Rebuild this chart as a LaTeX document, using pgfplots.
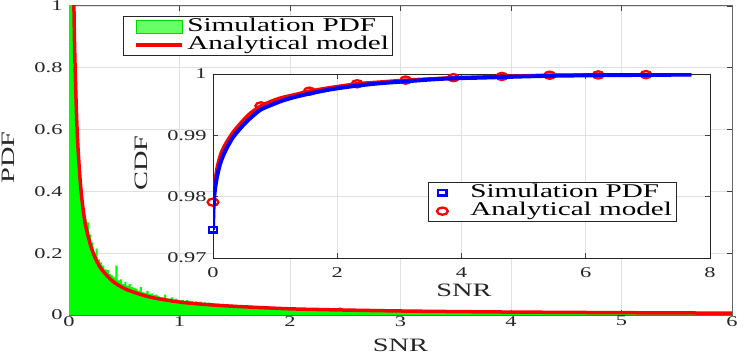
\documentclass[border=0pt]{standalone}
\usepackage{fontspec}
\setmainfont{Liberation Serif}[FakeStretch=1.5]
\usepackage{pgfplots}
\usepackage{pgfplotstable}
\pgfplotsset{compat=1.18}
\definecolor{mgreen}{RGB}{0,255,0}
\definecolor{mred}{RGB}{255,0,0}
\definecolor{mblue}{RGB}{0,0,255}
\definecolor{axgray}{RGB}{64,64,64}

% histogram of simulated SNR, bin width 0.02 starting at 0
\pgfplotstableread{
y
3.0
1.2
0.80
0.60
0.48
0.41
0.35
0.31
0.30
0.26
0.235
0.20
0.215
0.18
0.17
0.16
0.148
0.145
0.132
0.128
0.122
0.16
0.112
0.115
0.10
0.108
0.095
0.10
0.09
0.088
0.085
0.078
0.09
0.074
0.072
0.078
0.068
0.07
0.064
0.066
0.062
0.058
0.057
0.066
0.054
0.053
0.057
0.050
0.053
0.049
0.047
0.049
0.045
0.048
0.043
0.046
0.042
0.044
0.040
0.043
0.039
0.041
0.037
0.040
0.036
0.038
0.035
0.037
0.033
0.036
0.032
0.034
0.031
0.033
0.030
0.031
0.029
0.031
0.028
0.030
0.028
0.029
0.026
0.028
0.025
0.027
0.025
0.026
0.024
0.025
0.023
0.025
0.022
0.024
0.022
0.023
0.021
0.022
0.021
0.023
0.021
0.020
0.022
0.019
0.021
0.020
0.019
0.021
0.018
0.020
0.019
0.018
0.024
0.018
0.019
0.018
0.017
0.019
0.017
0.018
0.018
0.017
0.025
0.017
0.018
0.016
0.017
0.018
0.016
0.017
0.016
0.017
0.015
0.016
0.017
0.015
0.016
0.015
0.016
0.015
0.015
0.014
0.016
0.014
0.015
0.014
0.013
0.015
0.014
0.013
0.014
0.013
0.015
0.013
0.014
0.012
0.013
0.014
0.012
0.013
0.013
0.012
0.013
0.014
0.012
0.013
0.011
0.012
0.013
0.012
0.012
0.011
0.013
0.012
0.011
0.012
0.011
0.012
0.010
0.011
0.011
0.012
0.010
0.011
0.012
0.010
0.011
0.010
0.011
0.010
0.011
0.010
0.011
0.009
0.010
0.011
0.010
0.009
0.010
0.010
0.010
0.009
0.010
0.011
0.009
0.010
0.009
0.010
0.009
0.010
0.009
0.010
0.009
0.008
0.009
0.012
0.009
0.008
0.009
0.009
0.008
0.009
0.008
0.009
0.008
0.009
0.008
0.007
0.008
0.009
0.008
0.007
0.008
0.009
0.008
0.007
0.008
0.008
0.007
0.008
0.007
0.008
0.007
0.008
0.007
0.010
0.007
0.008
0.007
0.007
0.007
0.006
0.007
0.008
0.007
0.006
0.007
0.007
0.006
0.007
0.006
0.007
0.006
0.007
0.006
0.007
0.006
0.006
0.007
0.006
0.006
0.006
0.007
0.006
0.005
0.006
0.006
0.007
0.006
0.005
0.006
0.005
0.006
0.006
0.005
0.006
0.005
0.006
0.005
0.006
0.005
0.006
0.005
0.005
0.006
0.005
0.005
0.006
0.005
0.005
0.005
}\histdata

\begin{document}
\begin{tikzpicture}
\pgfplotsset{
  mystyle/.style={
    scale only axis,
    anchor=south west,
    tick align=inside,
    major tick length=5bp,
    grid=major,
    major grid style={draw=black!12, line width=0.8bp},
    every tick/.style={axgray, line width=0.8bp},
    /pgf/number format/assume math mode=true,
    tick label style={font=\fontsize{15}{15}\selectfont, text=black!85},
    yticklabel style={xshift=-3bp},
    label style={font=\fontsize{19}{19}\selectfont, text=black!85},
    legend cell align=left,
  }
}
% ---------- main PDF axis ----------
\begin{axis}[mystyle,
  at={(69bp,39bp)}, width=663bp, height=309bp,
  xmin=0, xmax=6, ymin=0, ymax=1,
  xtick={0,1,2,3,4,5,6},
  ytick={0,0.2,0.4,0.6,0.8,1},
  axis line style={draw=black!60, line width=1bp},
  xticklabel style={inner sep=1bp},
  xlabel={SNR}, ylabel={PDF},
  xlabel style={at={(axis description cs:0.5,-0.097)}, anchor=center},
  ylabel style={at={(axis description cs:-0.091,0.51)}, anchor=center},
  legend style={at={(rel axis cs:0.0814,0.968)}, anchor=north west,
    draw=black!85, line width=0.8bp, fill=white,
    font=\fontsize{19.5}{19.5}\selectfont,
    inner xsep=3bp, inner ysep=1bp,
    nodes={inner sep=1bp, text height=13bp, text depth=3.5bp}},
]
\addplot[fill=mgreen, draw=none, const plot mark left,
  legend image code/.code={
    \path[draw=none, fill=none] (0bp,-7bp) rectangle (60bp,7bp);
    \path[fill=mgreen!60, draw=mgreen!85!black, line width=0.8bp] (10bp,-6.5bp) rectangle (56bp,6.5bp);}]
  table[x expr=\coordindex*0.02, y=y] {\histdata} \closedcycle;
\addlegendentry{Simulation PDF}
\addplot[mred, line width=3.5bp, smooth,
  legend image code/.code={
    \path[draw=none, fill=none] (0bp,-7bp) rectangle (60bp,7bp);
    \draw[mred, line width=3.5bp] (10bp,0bp) -- (56bp,0bp);}] coordinates {
(0.042,1.06) (0.05,0.88) (0.06,0.74) (0.07,0.63) (0.08,0.55) (0.1,0.44)
(0.12,0.365) (0.15,0.29) (0.2,0.22) (0.25,0.175) (0.3,0.145) (0.4,0.108)
(0.5,0.086) (0.6,0.072) (0.7,0.061) (0.8,0.053) (1.0,0.042) (1.2,0.035)
(1.5,0.028) (2.0,0.020) (2.5,0.016) (3.0,0.013) (3.5,0.011) (4.0,0.0095)
(5.0,0.0075) (6.0,0.006)};
\addlegendentry{Analytical model}
\end{axis}

% ---------- inset CDF axis ----------
\begin{axis}[mystyle,
  at={(213bp,96bp)}, width=497bp, height=184bp,
  xmin=0, xmax=8, ymin=0.97, ymax=1,
  xtick={0,2,4,6,8},
  ytick={0.97,0.98,0.99,1},
  yticklabel style={/pgf/number format/.cd, fixed, precision=2},
  axis background/.style={fill=white},
  axis line style={draw=black!85, line width=0.8bp},
  xticklabel style={yshift=-6bp},
  clip mode=individual,
  xlabel={SNR}, ylabel={CDF},
  xlabel style={at={(axis description cs:0.505,-0.174)}, anchor=center},
  ylabel style={at={(axis description cs:-0.145,0.516)}, anchor=center},
  legend style={at={(rel axis cs:0.4326,0.413)}, anchor=north west,
    draw=black!85, line width=0.8bp, fill=white,
    font=\fontsize{19.5}{19.5}\selectfont,
    inner xsep=3bp, inner ysep=1bp,
    nodes={inner sep=1bp, text height=13bp, text depth=3.5bp}},
  legend image code/.code={
    \path[draw=none, fill=none] (0bp,-5bp) rectangle (38bp,5bp);
    \draw[#1] plot coordinates {(11bp,0bp)};},
]
\addlegendimage{only marks, mark=square, mblue, line width=2.5bp, mark size=2.8bp, mark options={xscale=1.5}}
\addlegendentry{Simulation PDF}
\addlegendimage{only marks, mark=o, mred, line width=2.3bp, mark size=3.6bp, mark options={xscale=1.5}}
\addlegendentry{Analytical model}
\addplot[mred, line width=3.5bp, smooth, forget plot] coordinates {
(0,0.9791) (0.03,0.9820) (0.06,0.9844) (0.11,0.9865) (0.16,0.9878)
(0.22,0.9889) (0.33,0.9906) (0.49,0.9925) (0.6,0.9936) (0.77,0.9948)
(1.0,0.9958) (1.13,0.9962) (1.3,0.9966) (1.55,0.9972) (1.9,0.9978)
(2.32,0.9984) (2.7,0.9987) (3.1,0.9990) (3.5,0.9992) (3.87,0.9994)
(4.3,0.9995) (4.65,0.9996) (5.0,0.9997) (5.42,0.9998) (6.2,0.99985)
(6.97,0.9999) (7.7,0.99993)};
\addplot[only marks, mark=o, mred, line width=2.3bp, mark size=3.6bp,
  mark options={xscale=1.5}, forget plot] coordinates {
(0,0.9791) (0.77,0.9948) (1.55,0.9972) (2.32,0.9984) (3.10,0.9990)
(3.87,0.9994) (4.65,0.9996) (5.42,0.9998) (6.20,0.99985) (6.97,0.9999)};
\addplot[mblue, line width=4bp, smooth, forget plot] coordinates {
(0,0.9746) (0.01,0.9785) (0.03,0.9810) (0.06,0.9830) (0.11,0.9852)
(0.16,0.9866) (0.22,0.9879) (0.33,0.9898) (0.49,0.9917) (0.6,0.9928)
(0.77,0.9942) (1.0,0.9952) (1.13,0.9957) (1.3,0.9962) (1.55,0.9968)
(1.9,0.9975) (2.32,0.9981) (2.7,0.9985) (3.1,0.9988) (3.5,0.9991)
(3.87,0.9993) (4.3,0.9994) (4.65,0.9995) (5.0,0.9996) (5.42,0.9997)
(6.2,0.9998) (6.97,0.99985) (7.7,0.9999)};
\addplot[only marks, mark=square, mblue, line width=2.5bp, mark size=2.8bp,
  mark options={xscale=1.5}, forget plot] coordinates {(0,0.9746)};
\end{axis}
\pgfresetboundingbox
\path[use as bounding box] (0,0) rectangle (747bp,354bp);
\end{tikzpicture}
\end{document}
